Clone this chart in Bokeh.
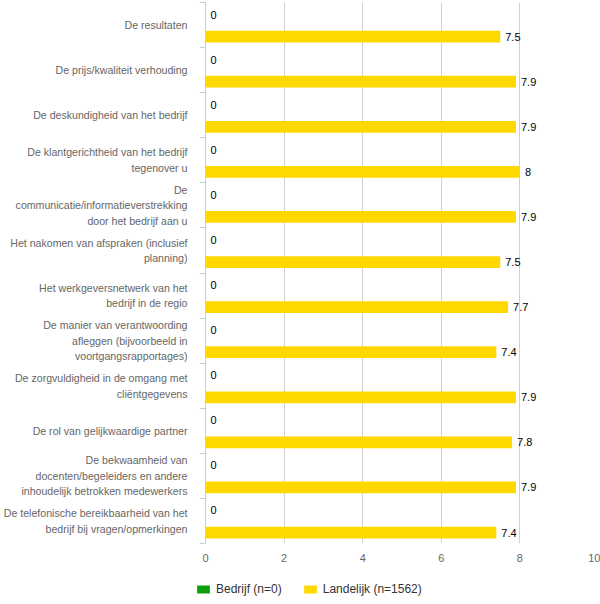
from bokeh.plotting import figure
from bokeh.models import (Range1d, LinearAxis, FixedTicker, Legend, LegendItem,
                          ColumnDataSource, Grid)
from bokeh.layouts import column
from bokeh.embed import file_html
from bokeh.resources import INLINE

categories = [
    "De resultaten",
    "De prijs/kwaliteit verhouding",
    "De deskundigheid van het bedrijf",
    "De klantgerichtheid van het bedrijf\ntegenover u",
    "De\ncommunicatie/informatieverstrekking\ndoor het bedrijf aan u",
    "Het nakomen van afspraken (inclusief\nplanning)",
    "Het werkgeversnetwerk van het\nbedrijf in de regio",
    "De manier van verantwoording\nafleggen (bijvoorbeeld in\nvoortgangsrapportages)",
    "De zorgvuldigheid in de omgang met\ncliëntgegevens",
    "De rol van gelijkwaardige partner",
    "De bekwaamheid van\ndocenten/begeleiders en andere\ninhoudelijk betrokken medewerkers",
    "De telefonische bereikbaarheid van het\nbedrijf bij vragen/opmerkingen",
]
bedrijf = [0, 0, 0, 0, 0, 0, 0, 0, 0, 0, 0, 0]
landelijk = [7.5, 7.9, 7.9, 8, 7.9, 7.5, 7.7, 7.4, 7.9, 7.8, 7.9, 7.4]
series_names = ["Bedrijf (n=0)", "Landelijk (n=1562)"]
x_ticks = [0, 2, 4, 6, 8, 10]

FONT = "Liberation Sans"
GREEN = "#0ca00c"
YELLOW = "#ffd800"
COLORS = [GREEN, YELLOW]

n = len(categories)
idx = list(range(n))
centers = [i + 0.5 for i in idx]
BAR_H = 0.26
OFF_B = -0.233
OFF_L = 0.257

def fmt(v):
    return ("%g" % v)

src_b = ColumnDataSource(dict(y=[c + OFF_B for c in centers], v=bedrijf,
                              lab=[fmt(v) for v in bedrijf]))
src_l = ColumnDataSource(dict(y=[c + OFF_L for c in centers], v=landelijk,
                              lab=[fmt(v) for v in landelijk]))
SOURCES = [src_b, src_l]

p = figure(width=600, height=570, output_backend="svg", toolbar_location=None,
           x_range=Range1d(0, 10), y_range=Range1d(n, 0),
           min_border_left=204, min_border_right=2, min_border_top=2,
           min_border_bottom=27, x_axis_location=None, y_axis_location=None)
p.outline_line_color = None
p.background_fill_color = "white"
p.border_fill_color = "white"
p.frame_align = False

# x axis (values)
xaxis = LinearAxis(ticker=FixedTicker(ticks=x_ticks))
xaxis.axis_line_color = None
xaxis.major_tick_line_color = None
xaxis.minor_tick_line_color = None
xaxis.major_label_text_font = FONT
xaxis.major_label_text_font_size = "11px"
xaxis.major_label_text_color = "#666666"
xaxis.major_label_standoff = 4
p.add_layout(xaxis, "below")

# y axis (categories)
yaxis = LinearAxis(ticker=FixedTicker(ticks=centers, minor_ticks=list(range(n + 1))))
yaxis.major_label_overrides = {c: lab for c, lab in zip(centers, categories)}
yaxis.axis_line_color = "#c0d0e0"
yaxis.major_tick_line_color = None
yaxis.minor_tick_line_color = "#c0d0e0"
yaxis.minor_tick_out = 6
yaxis.minor_tick_in = 0
yaxis.major_label_text_font = FONT
yaxis.major_label_text_font_size = "10.6px"
yaxis.major_label_text_color = "#666666"
yaxis.major_label_text_line_height = 1.3
yaxis.major_label_standoff = 12
p.add_layout(yaxis, "left")

p.grid.grid_line_color = None
p.add_layout(Grid(dimension=0, ticker=FixedTicker(ticks=x_ticks[1:]),
                  grid_line_color="#d0d0d0"))

for s, col in zip(SOURCES, COLORS):
    p.hbar(y="y", left=0, right="v", height=BAR_H, source=s,
           fill_color=col, line_color=None)

for s in SOURCES:
    p.text(x="v", y="y", text="lab", source=s, x_offset=5,
           text_align="left", text_baseline="middle",
           text_font_size="11px", text_color="#000000",
           text_font={"value": FONT})

# legend strip below the chart (its renderers are hidden; only the legend shows)
lf = figure(width=600, height=34, output_backend="svg", toolbar_location=None,
            x_range=Range1d(0, 10), y_range=Range1d(0, n),
            min_border=0, min_border_left=0, min_border_right=0,
            min_border_top=0, min_border_bottom=0,
            x_axis_location=None, y_axis_location=None)
lf.frame_align = False
lf.outline_line_color = None
lf.grid.grid_line_color = None
lf.border_fill_color = "white"
lf.background_fill_color = "white"
items = []
for name, col, s in zip(series_names, COLORS, SOURCES):
    r = lf.hbar(y="y", left=0, right="v", height=BAR_H, source=s,
                fill_color=col, line_color=None)
    r.visible = False
    items.append(LegendItem(label=name, renderers=[r]))

legend = Legend(items=items, orientation="horizontal", location=(195, 8),
                glyph_width=16, glyph_height=10, label_standoff=5,
                label_height=12, spacing=20, padding=0, margin=0,
                border_line_color=None, background_fill_alpha=0,
                inactive_fill_alpha=0, click_policy="none",
                label_text_font=FONT, label_text_font_size="12px",
                label_text_color="#333333")
lf.add_layout(legend, "center")

layout = column(p, lf, spacing=0)
open("out.html", "w").write(file_html(layout, INLINE))
